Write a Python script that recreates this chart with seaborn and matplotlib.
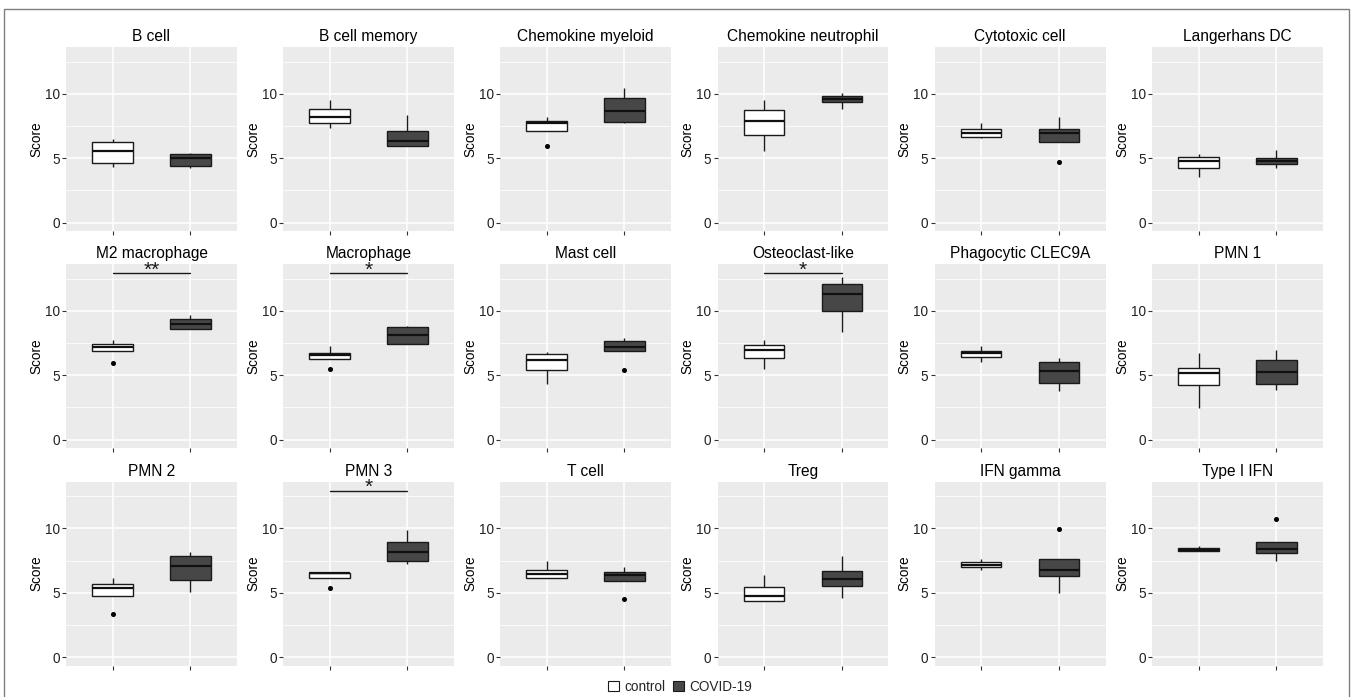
import numpy as np
import pandas as pd
import matplotlib
matplotlib.use("Agg")
import matplotlib.pyplot as plt
from matplotlib.patches import Patch, Rectangle
import seaborn as sns

# panel titles (row by row)
panels = ["B cell", "B cell memory", "Chemokine myeloid", "Chemokine neutrophil",
          "Cytotoxic cell", "Langerhans DC",
          "M2 macrophage", "Macrophage", "Mast cell", "Osteoclast-like",
          "Phagocytic CLEC9A", "PMN 1",
          "PMN 2", "PMN 3", "T cell", "Treg", "IFN gamma", "Type I IFN"]
groups = ["control", "COVID-19"]

# box summaries: whisker low, Q1, median, Q3, whisker high
control_box = [
    [4.34, 4.65, 5.56, 6.28, 6.51], [7.36, 7.73, 8.22, 8.84, 9.56],
    [7.16, 7.16, 7.75, 7.91, 8.22], [5.56, 6.82, 7.91, 8.76, 9.56],
    [6.56, 6.67, 6.98, 7.26, 7.75], [3.54, 4.26, 4.81, 5.09, 5.30],
    [6.89, 6.89, 7.22, 7.43, 7.76], [6.27, 6.27, 6.61, 6.76, 7.28],
    [4.32, 5.40, 6.20, 6.66, 6.81], [5.48, 6.35, 6.97, 7.33, 7.71],
    [6.04, 6.43, 6.74, 6.89, 7.25], [2.44, 4.22, 5.19, 5.53, 6.76],
    [4.79, 4.79, 5.34, 5.65, 6.17], [6.17, 6.17, 6.53, 6.55, 6.55],
    [6.17, 6.17, 6.45, 6.81, 7.44], [4.38, 4.38, 4.79, 5.44, 6.35],
    [6.79, 7.00, 7.18, 7.36, 7.64], [8.26, 8.26, 8.34, 8.45, 8.65],
]
covid_box = [
    [4.21, 4.44, 5.04, 5.37, 5.45], [5.92, 5.92, 6.36, 7.13, 8.40],
    [7.75, 7.83, 8.68, 9.69, 10.49], [8.84, 9.38, 9.61, 9.84, 10.08],
    [6.28, 6.28, 6.98, 7.29, 8.19], [4.26, 4.55, 4.81, 5.06, 5.68],
    [8.59, 8.59, 9.00, 9.36, 9.69], [7.40, 7.40, 8.12, 8.77, 8.84],
    [6.89, 6.89, 7.20, 7.69, 7.89], [8.35, 10.00, 11.29, 12.08, 12.65],
    [3.75, 4.40, 5.37, 6.04, 6.38], [3.86, 4.32, 5.27, 6.22, 6.99],
    [5.10, 5.96, 7.07, 7.85, 8.16], [7.25, 7.51, 8.16, 8.96, 9.87],
    [5.93, 5.93, 6.40, 6.61, 6.99], [4.61, 5.49, 6.04, 6.68, 7.88],
    [4.97, 6.27, 6.76, 7.59, 7.59], [7.46, 8.08, 8.37, 8.96, 8.96],
]
# outliers: (panel, group, value)
outliers = [
    ("Chemokine myeloid", "control", 5.94), ("Cytotoxic cell", "COVID-19", 4.72),
    ("M2 macrophage", "control", 5.96), ("Macrophage", "control", 5.50),
    ("Mast cell", "COVID-19", 5.45), ("PMN 2", "control", 3.39),
    ("PMN 3", "control", 5.39), ("T cell", "COVID-19", 4.53),
    ("IFN gamma", "COVID-19", 9.97), ("Type I IFN", "COVID-19", 10.70),
]
# significance marks
signif = {"M2 macrophage": "**", "Macrophage": "*", "Osteoclast-like": "*", "PMN 3": "*"}


def sample_from(box, outs):
    lo, q1, med, q3, hi = box
    vals = [lo, lo, q1, q1, med, q3, q3, hi, hi]
    for v in outs:
        if v < lo:
            vals[0] = v
        else:
            vals[-1] = v
    return vals


rows = []
for i, name in enumerate(panels):
    for g, boxes in zip(groups, [control_box, covid_box]):
        outs = [v for p, gg, v in outliers if p == name and gg == g]
        for v in sample_from(boxes[i], outs):
            rows.append({"panel": name, "group": g, "Score": v})
df = pd.DataFrame(rows)

sns.set_theme(style="darkgrid", rc={
    "axes.facecolor": "#EBEBEB", "grid.color": "white", "figure.facecolor": "white",
})
plt.rcParams['font.family'] = ['Liberation Sans', 'DejaVu Sans']

fill_colors = {"control": "white", "COVID-19": "#474747"}

fig = plt.figure(figsize=(13.53, 6.97), dpi=100)
W, H = 1353.0, 697.0
lefts = [66, 283, 500, 717.5, 934.5, 1152]
tops = [47, 264, 481.5]
pw, ph = 171, 184

for i, name in enumerate(panels):
    r, c = divmod(i, 6)
    ax = fig.add_axes([lefts[c] / W, 1 - (tops[r] + ph) / H, pw / W, ph / H])
    sub = df[df["panel"] == name]
    sns.boxplot(data=sub, x="group", y="Score", hue="group", order=groups,
                hue_order=groups, palette=fill_colors, width=0.52, linewidth=1.0,
                linecolor="#1A1A1A", legend=False, ax=ax, showcaps=False,
                medianprops={"linewidth": 1.6, "color": "#111111"},
                flierprops={"marker": "o", "markersize": 2.6,
                            "markerfacecolor": "black", "markeredgecolor": "black"})
    ax.set_xlim(-0.6, 1.6)
    ax.set_ylim(-0.65, 13.65)
    ax.set_yticks([0, 5, 10])
    ax.set_yticks([2.5, 7.5, 12.5], minor=True)
    ax.grid(True, which="major", color="white", linewidth=1.1)
    ax.grid(True, which="minor", axis="y", color="white", linewidth=0.55)
    ax.set_axisbelow(True)
    ax.set_xticks([0, 1])
    ax.set_xticklabels(["", ""])
    ax.set_xlabel("")
    ax.set_ylabel("Score", fontsize=9.8, labelpad=1, color="black")
    ax.tick_params(axis="both", which="major", length=3, width=0.8, color="#333333",
                   labelsize=9.8, labelcolor="#222222", pad=1.5, left=True, bottom=True)
    ax.tick_params(which="minor", length=0)
    for s in ax.spines.values():
        s.set_visible(False)
    ax.set_title(name, fontsize=11.2, pad=4, color="black")
    if name in signif:
        ax.plot([0, 1], [12.95, 12.95], color="#1A1A1A", linewidth=1.0)
        ax.text(0.5, 12.75, signif[name], ha="center", va="baseline",
                fontsize=15, color="#1A1A1A", clip_on=False)

handles = [Patch(facecolor=fill_colors[g], edgecolor="#1A1A1A", linewidth=0.8, label=g)
           for g in groups]
fig.legend(handles=handles, loc="center", bbox_to_anchor=(680 / W, 1 - 687 / H),
           ncol=2, frameon=False, fontsize=9.8, handlelength=0.8, handleheight=0.8,
           handletextpad=0.4, columnspacing=0.6)

fig.patches.append(Rectangle((4 / W, -0.01), (1349 - 4) / W, 1 - 9 / H + 0.01,
                             transform=fig.transFigure, fill=False,
                             edgecolor="#7F7F7F", linewidth=1.0))

fig.savefig("out.png", dpi=100)
